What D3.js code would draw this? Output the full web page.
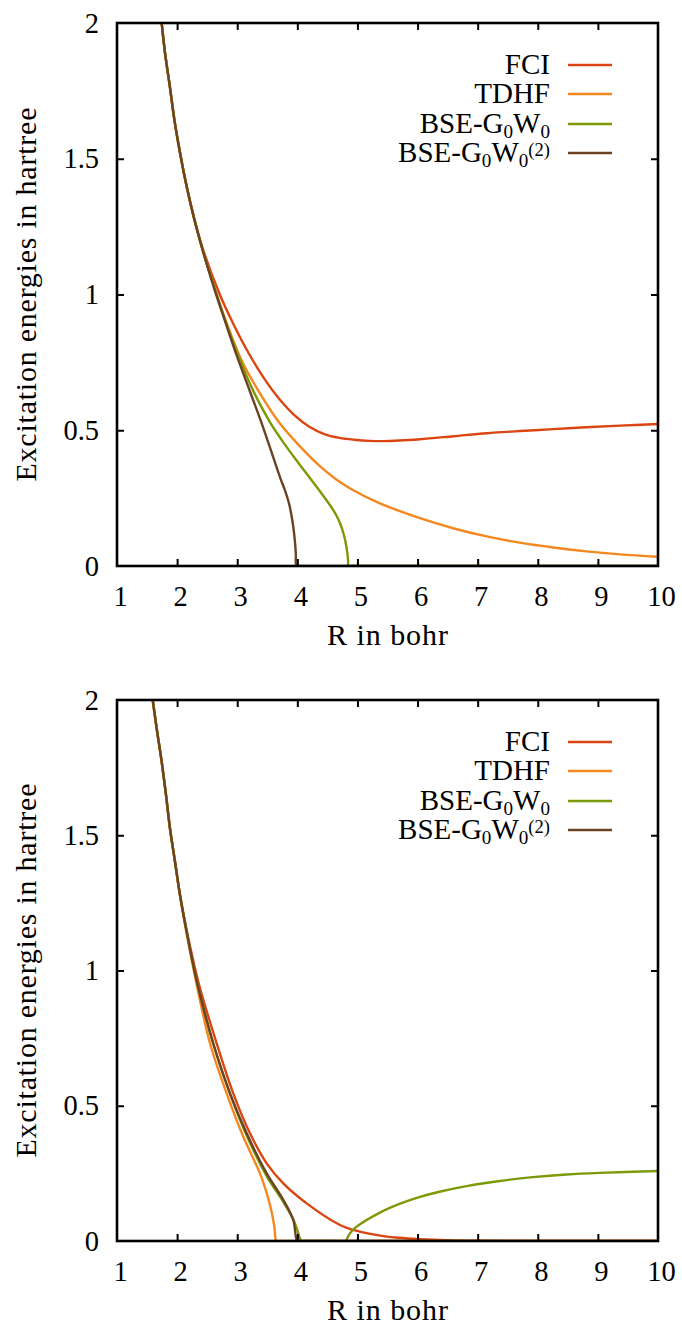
<!DOCTYPE html>
<html>
<head>
<meta charset="utf-8">
<script src="https://cdn.jsdelivr.net/npm/d3@7"></script>
<style>
html,body{margin:0;padding:0;background:#fff;}
svg{display:block;}
svg text{font-family:"Liberation Serif","DejaVu Serif","Noto Serif",serif !important;fill:#000;}
</style>
</head>
<body>
<svg id="chart" width="682" height="1328" font-family="Liberation Serif, DejaVu Serif, serif"></svg>
<script>
// ---------------- data (R in bohr, excitation energy in hartree) ----------------
const xTickValues = [1,2,3,4,5,6,7,8,9,10];
const xTickLabels = ["1","2","3","4","5","6","7","8","9","10"];
const yTickValues = [0,0.5,1,1.5,2];
const yTickLabels = ["0","0.5","1","1.5","2"];
const seriesNames = ["FCI","TDHF","BSE-G0W0","BSE-G0W0(2)"];
const seriesColors = ["#dc4511","#f5871f","#7b9a06","#6b4324"];
const xTitle = "R in bohr";
const yTitle = "Excitation energies in hartree";

// top panel
const topFCI = [[1.743,2.0],[1.80,1.888],[1.88,1.765],[1.955,1.643],[2.05,1.52],[2.16,1.397],[2.29,1.274],
  [2.44,1.16],[2.71,1.0],[2.95,0.885],[3.2,0.78],[3.45,0.69],[3.7,0.615],[3.95,0.556],[4.2,0.513],
  [4.45,0.486],[4.7,0.472],[4.95,0.465],[5.2,0.461],[5.43,0.460],[5.7,0.462],[6.04,0.467],[6.6,0.478],
  [7.15,0.489],[7.7,0.497],[8.26,0.504],[8.8,0.511],[9.37,0.517],[10,0.523]];
const topTDHF = [[1.743,2.0],[1.80,1.888],[1.88,1.765],[1.955,1.643],[2.05,1.52],[2.16,1.397],[2.29,1.274],
  [2.44,1.152],[2.63,1.02],[2.80,0.91],[3.07,0.759],[3.378,0.636],[3.711,0.525],[4.155,0.415],[4.376,0.368],
  [4.654,0.318],[4.93,0.279],[5.374,0.231],[6.04,0.176],[6.59,0.139],[7.15,0.109],[7.7,0.086],[8.26,0.068],
  [8.81,0.054],[9.37,0.043],[10,0.034]];
const topBSE = [[1.743,2.0],[1.80,1.888],[1.88,1.765],[1.955,1.643],[2.05,1.52],[2.16,1.397],[2.29,1.274],
  [2.44,1.152],[2.63,1.02],[2.80,0.905],[3.0,0.785],[3.267,0.645],[3.544,0.53],[3.8,0.445],[4.0,0.385],
  [4.2,0.327],[4.4,0.268],[4.55,0.222],[4.65,0.186],[4.72,0.152],[4.77,0.118],[4.805,0.085],[4.83,0.05],
  [4.845,0.018],[4.85,0.0],[4.9,0.0],[5.2,0.0],[10,0.0]];
const topBSE2 = [[1.743,2.0],[1.80,1.888],[1.88,1.765],[1.955,1.643],[2.05,1.52],[2.16,1.397],[2.29,1.274],
  [2.44,1.152],[2.62,1.02],[2.80,0.90],[3.0,0.77],[3.2,0.65],[3.4,0.53],[3.6,0.40],[3.72,0.322],[3.80,0.275],
  [3.86,0.232],[3.90,0.19],[3.935,0.14],[3.96,0.09],[3.975,0.045],[3.985,0.0],[4.03,0.0],[4.3,0.0],[10,0.0]];

// bottom panel
const botFCI = [[1.594,2.0],[1.66,1.895],[1.743,1.772],[1.815,1.649],[1.881,1.526],[1.965,1.402],[2.048,1.279],
  [2.148,1.16],[2.27,1.035],[2.38,0.935],[2.658,0.731],[2.934,0.546],[3.212,0.398],[3.49,0.287],[3.766,0.213],
  [4.155,0.139],[4.709,0.059],[4.93,0.041],[5.485,0.016],[5.71,0.012],[6.04,0.007],[6.5,0.003],[7.0,0.001],
  [8.0,0.0],[10,0.0]];
const botTDHF = [[1.594,2.0],[1.66,1.895],[1.743,1.772],[1.815,1.649],[1.881,1.526],[1.965,1.402],[2.048,1.279],
  [2.148,1.15],[2.25,1.03],[2.547,0.731],[2.824,0.546],[3.10,0.386],[3.378,0.25],[3.50,0.17],[3.57,0.11],
  [3.62,0.05],[3.65,0.0],[3.69,0.0],[4.0,0.0],[10,0.0]];
const botBSE = [[1.594,2.0],[1.66,1.895],[1.743,1.772],[1.815,1.649],[1.881,1.526],[1.965,1.402],[2.048,1.279],
  [2.148,1.156],[2.26,1.03],[2.36,0.93],[2.60,0.731],[2.879,0.546],[3.157,0.39],[3.49,0.24],[3.766,0.145],
  [3.932,0.08],[4.0,0.04],[4.07,0.0],[4.12,0.0],[4.6,0.0],[4.80,0.0],[4.85,0.02],[4.9,0.035],[4.986,0.053],
  [5.374,0.105],[5.71,0.138],[6.04,0.163],[6.4,0.184],[6.815,0.203],[7.37,0.222],[7.92,0.236],[8.48,0.246],
  [9.03,0.252],[10,0.259]];
const botBSE2 = [[1.594,2.0],[1.66,1.895],[1.743,1.772],[1.815,1.649],[1.881,1.526],[1.965,1.402],[2.048,1.279],
  [2.148,1.156],[2.26,1.03],[2.36,0.93],[2.60,0.731],[2.879,0.546],[3.157,0.398],[3.49,0.25],[3.766,0.152],
  [3.932,0.078],[3.998,0.0],[4.04,0.0],[4.4,0.0],[10,0.0]];

// ---------------- drawing ----------------
const svg = d3.select("#chart");
const FS_TICK = 28.5;
const FS = 30;
const FS_LEG = 29;
const panels = [
  {top:23, bottom:566, series:[topFCI, topTDHF, topBSE, topBSE2]},
  {top:700, bottom:1241, series:[botFCI, botTDHF, botBSE, botBSE2]}
];
const left = 117, right = 658;

panels.forEach((p, pi) => {
  const x = d3.scaleLinear().domain([1,10]).range([left,right]);
  const y = d3.scaleLinear().domain([0,2]).range([p.bottom,p.top]);
  const g = svg.append("g");

  const clipId = "clip" + pi;
  svg.append("clipPath").attr("id", clipId).append("rect")
    .attr("x", left).attr("y", p.top).attr("width", right-left).attr("height", p.bottom-p.top);

  const line = d3.line().x(d => x(d[0])).y(d => y(d[1])).curve(d3.curveCatmullRom.alpha(0.5));
  const cg = g.append("g").attr("clip-path", `url(#${clipId})`);
  p.series.forEach((s, i) => {
    cg.append("path").attr("d", line(s)).attr("fill","none")
      .attr("stroke", seriesColors[i]).attr("stroke-width", 2.4)
      .attr("stroke-linejoin","round").attr("stroke-linecap","butt");
  });

  const inner = xTickValues.slice(1,-1);
  const innerY = yTickValues.slice(1,-1);
  const ax = [
    g.append("g").attr("transform",`translate(0,${p.bottom})`)
      .call(d3.axisBottom(x).tickValues(xTickValues).tickSizeInner(-7).tickSizeOuter(0).tickPadding(20)
        .tickFormat((d,i) => xTickLabels[i])),
    g.append("g").attr("transform",`translate(0,${p.top})`)
      .call(d3.axisTop(x).tickValues(inner).tickSizeInner(-7).tickSizeOuter(0).tickFormat("")),
    g.append("g").attr("transform",`translate(${left},0)`)
      .call(d3.axisLeft(y).tickValues(yTickValues).tickSizeInner(-7).tickSizeOuter(0).tickPadding(18)
        .tickFormat((d,i) => yTickLabels[i])),
    g.append("g").attr("transform",`translate(${right},0)`)
      .call(d3.axisRight(y).tickValues(innerY).tickSizeInner(-7).tickSizeOuter(0).tickFormat(""))
  ];
  ax.forEach(a => {
    a.attr("font-family", null);
    a.select(".domain").remove();
    a.selectAll(".tick line").attr("stroke","#000").attr("stroke-width",2);
    a.selectAll("text").attr("font-size",FS_TICK).attr("fill","#000");
  });
  ax[0].selectAll("text").attr("dx", 3);
  ax[0].selectAll(".tick line").filter(d => d===1 || d===10).remove();
  ax[2].selectAll(".tick line").filter(d => d===0 || d===2).remove();

  g.append("rect").attr("x",left).attr("y",p.top).attr("width",right-left).attr("height",p.bottom-p.top)
    .attr("fill","none").attr("stroke","#000").attr("stroke-width",2.6);

  g.append("text").attr("x",(left+right)/2).attr("y",p.bottom+79).attr("text-anchor","middle")
    .attr("font-size",FS).attr("textLength",121).attr("lengthAdjust","spacing").text(xTitle);
  g.append("text").attr("transform",`translate(36,${(p.top+p.bottom)/2}) rotate(-90)`)
    .attr("text-anchor","middle").attr("font-size",FS).attr("textLength",374).attr("lengthAdjust","spacing")
    .text(yTitle);

  const off = p.top - 23;
  const rowsY = [65,94,124,153].map(v => v + off);
  seriesNames.forEach((name, i) => {
    const ly = rowsY[i];
    g.append("line").attr("x1",568).attr("x2",612).attr("y1",ly).attr("y2",ly)
      .attr("stroke",seriesColors[i]).attr("stroke-width",2.6);
    const t = g.append("text").attr("x",550).attr("y",ly+9).attr("text-anchor","end").attr("font-size",FS_LEG);
    if (i < 2) {
      t.text(name);
    } else {
      t.append("tspan").text("BSE-G");
      t.append("tspan").attr("font-size",FS_LEG*0.66).attr("dy",5).text("0");
      t.append("tspan").attr("dy",-5).text("W");
      t.append("tspan").attr("font-size",FS_LEG*0.66).attr("dy",5).text("0");
      if (i === 3) {
        t.append("tspan").attr("font-size",FS_LEG*0.64).attr("dy",-11).text("(2)");
      }
    }
  });
});
</script>
</body>
</html>
